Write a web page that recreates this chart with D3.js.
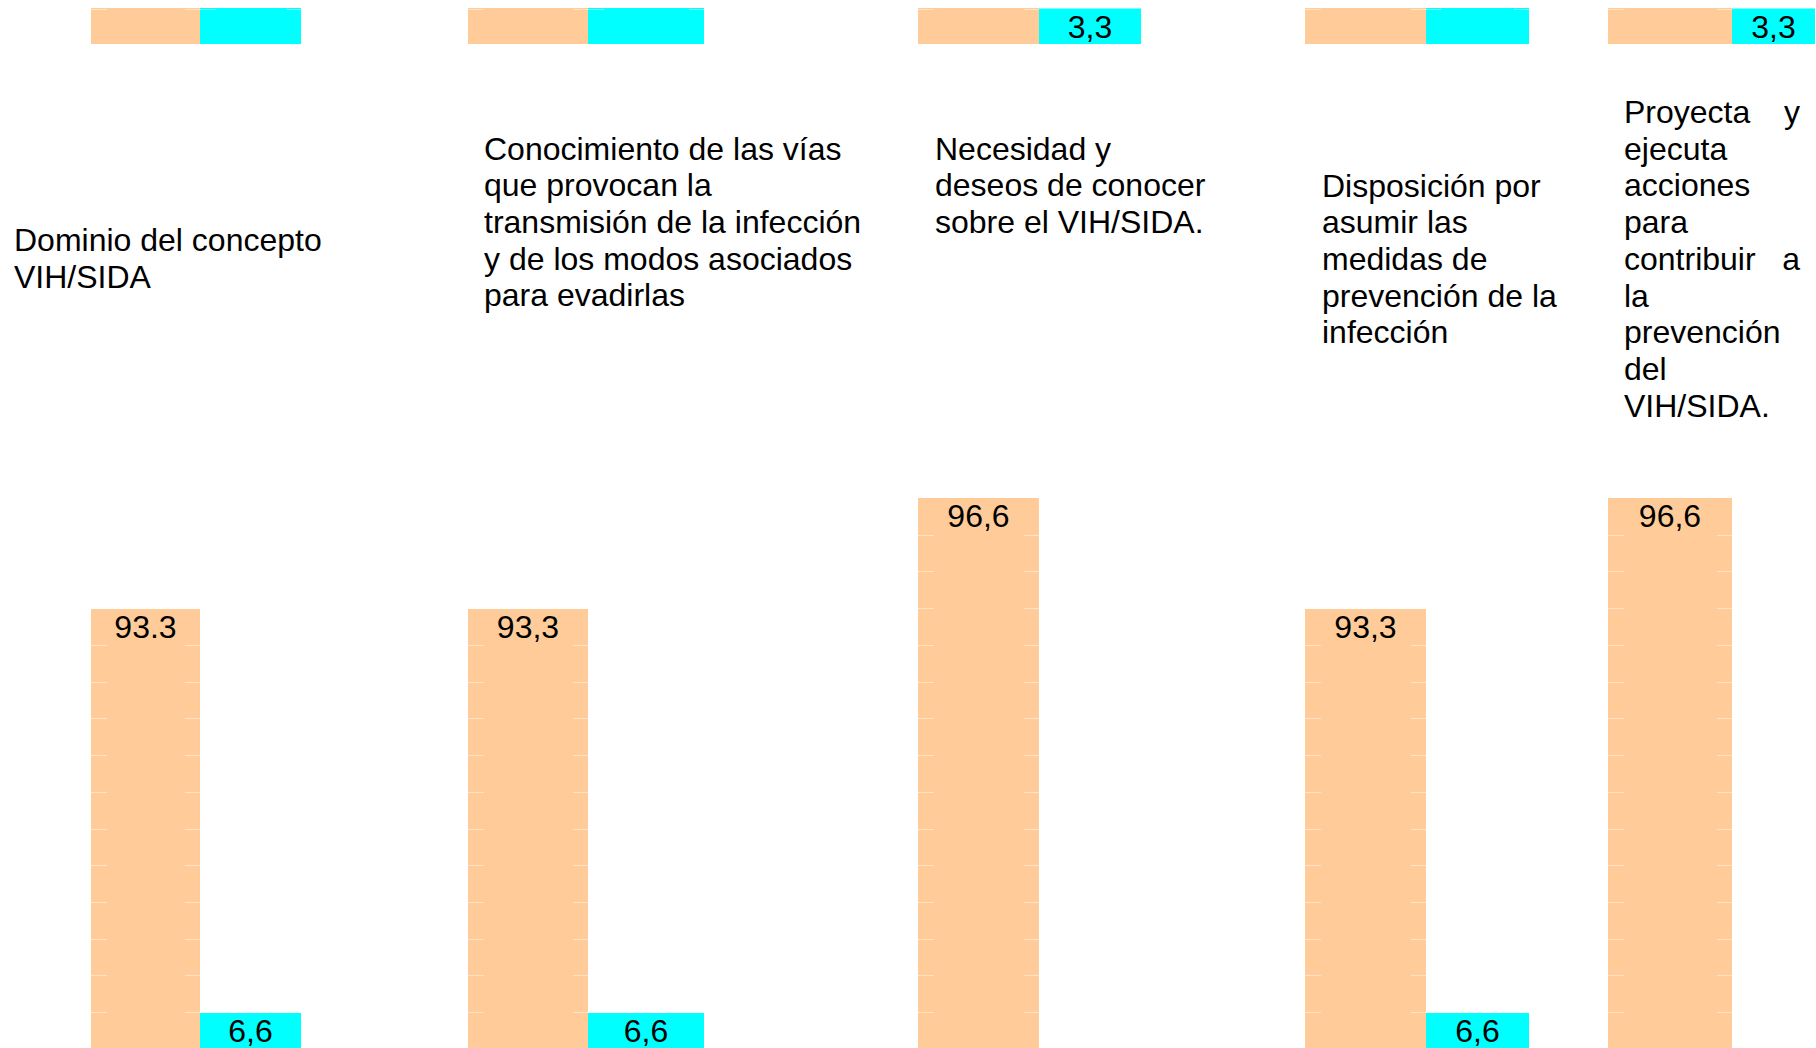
<!DOCTYPE html>
<html>
<head>
<meta charset="utf-8">
<script src="https://cdn.jsdelivr.net/npm/d3@7"></script>
<style>
  html, body { margin: 0; padding: 0; background: #ffffff; }
  svg { display: block; }
  text { font-family: "Liberation Sans", Arial, sans-serif; fill: #000; }
</style>
</head>
<body>
<script>
// ---------------- DATA ----------------
const categories = [
  "Dominio del concepto VIH/SIDA",
  "Conocimiento de las vías que provocan la transmisión de la infección y de los modos asociados para evadirlas",
  "Necesidad y deseos de conocer sobre el VIH/SIDA.",
  "Disposición por asumir las medidas de prevención de la infección",
  "Proyecta y ejecuta acciones para contribuir a la prevención del VIH/SIDA."
];
const categoryLines = [
  ["Dominio del concepto", "VIH/SIDA"],
  ["Conocimiento de las vías", "que provocan la", "transmisión de la infección", "y de los modos asociados", "para evadirlas"],
  ["Necesidad y", "deseos de conocer", "sobre el VIH/SIDA."],
  ["Disposición por", "asumir las", "medidas de", "prevención de la", "infección"],
  ["Proyecta y", "ejecuta", "acciones", "para", "contribuir a", "la", "prevención", "del", "VIH/SIDA."]
];
const seriesPeach = [93.3, 93.3, 96.6, 93.3, 96.6];
const seriesCyan  = [6.6, 6.6, 3.3, 6.6, 3.3];
const labelsPeach = ["93.3", "93,3", "96,6", "93,3", "96,6"];
const labelsCyan  = ["6,6", "6,6", "3,3", "6,6", "3,3"];

// ---------------- LAYOUT ----------------
const W = 1816, H = 1048;
const COLORS = { peach: "#FFCC99", cyan: "#00FFFF" };
const FONT = 32;
const LINE_H = 36.7;
const wrapOffset = 1040;          // the picture wraps: what falls below 1048 re-appears at the top
const stripTop = 8, stripBottom = 44;

// group geometry (left edge of peach bar, split point, right edge of cyan bar)
const groupStart = [91, 468, 918, 1305, 1608];
const groupSplit = [200, 588, 1039, 1426, 1732];
const groupEnd   = [301, 704, 1141, 1529, 1815];
const labelPos   = [[14, 251], [484, 159.5], [935, 159.5], [1322, 196.5], [1624, 123]];
const justifyRight = [null, null, null, null, 1800];

const xStart = d3.scaleOrdinal().domain(categories).range(groupStart);
const xSplit = d3.scaleOrdinal().domain(categories).range(groupSplit);
const xEnd   = d3.scaleOrdinal().domain(categories).range(groupEnd);

// broken (piecewise) value axis as drawn in the original
const y = d3.scaleLinear()
  .domain([0, 6.6, 93.3, 96.6])
  .range([1084, 1013, 609, 498]);

const svg = d3.select("body").append("svg")
  .attr("width", W).attr("height", H)
  .attr("viewBox", `0 0 ${W} ${H}`);
svg.append("rect").attr("width", W).attr("height", H).attr("fill", "#fff");

const defs = svg.append("defs");
defs.append("clipPath").attr("id", "clipMain")
  .append("rect").attr("x", 0).attr("y", 0).attr("width", W).attr("height", H);
defs.append("clipPath").attr("id", "clipStrip")
  .append("rect").attr("x", 0).attr("y", stripTop).attr("width", W).attr("height", stripBottom - stripTop);

const bars = categories.flatMap((c, i) => [
  { cat: c, series: "peach", value: seriesPeach[i], label: labelsPeach[i],
    x0: xStart(c), x1: xSplit(c) },
  { cat: c, series: "cyan", value: seriesCyan[i], label: labelsCyan[i],
    x0: xSplit(c), x1: xEnd(c) }
]);

// gridline positions (faint, visible only near bar edges)
const gStep = (y(6.6) - y(93.3)) / 11;
const gridYs = d3.range(y(96.6), y(0) + 0.1, gStep);

function drawChart(g, inStrip) {
  g.selectAll("rect.bar").data(bars).join("rect")
    .attr("class", "bar")
    .attr("x", d => d.x0)
    .attr("width", d => d.x1 - d.x0)
    .attr("y", d => y(d.value))
    .attr("height", d => y(0) - y(d.value))
    .attr("fill", d => COLORS[d.series]);

  const segs = [];
  bars.forEach(d => {
    gridYs.forEach(gy => {
      if (gy > y(d.value) + 1.5 && gy < y(0)) {
        segs.push({ x1: d.x0, x2: d.x0 + 16, y: gy });
        segs.push({ x1: d.x1 - 15, x2: d.x1, y: gy });
      }
    });
  });
  g.selectAll("line.grid").data(segs).join("line")
    .attr("class", "grid")
    .attr("x1", d => d.x1).attr("x2", d => d.x2)
    .attr("y1", d => Math.round(d.y) + 0.5).attr("y2", d => Math.round(d.y) + 0.5)
    .attr("stroke", "#ffffff").attr("stroke-opacity", 0.45).attr("stroke-width", 1);

  // value labels: only where the bar top is visible in this part of the picture
  const visible = bars.filter(d => inStrip ? y(d.value) >= H - 1 : y(d.value) < H - 1);
  g.selectAll("text.val").data(visible).join("text")
    .attr("class", "val")
    .attr("x", d => (d.x0 + d.x1) / 2)
    .attr("y", d => y(d.value) + 29.3)
    .attr("text-anchor", "middle")
    .attr("font-size", FONT)
    .text(d => d.label);
}

const mainG = svg.append("g").attr("clip-path", "url(#clipMain)");
drawChart(mainG, false);

const stripOuter = svg.append("g").attr("clip-path", "url(#clipStrip)");
const stripG = stripOuter.append("g").attr("transform", `translate(0,${-wrapOffset})`);
drawChart(stripG, true);

// category texts
categories.forEach((c, i) => {
  const [lx, ly] = labelPos[i];
  const g = svg.append("g");
  categoryLines[i].forEach((line, j) => {
    const by = ly + j * LINE_H;
    const words = line.split(" ");
    if (justifyRight[i] !== null && words.length > 1) {
      g.append("text").attr("x", lx).attr("y", by).attr("font-size", FONT)
        .text(words.slice(0, -1).join(" "));
      g.append("text").attr("x", justifyRight[i]).attr("y", by).attr("font-size", FONT)
        .attr("text-anchor", "end").text(words[words.length - 1]);
    } else {
      g.append("text").attr("x", lx).attr("y", by).attr("font-size", FONT).text(line);
    }
  });
});
</script>
</body>
</html>
